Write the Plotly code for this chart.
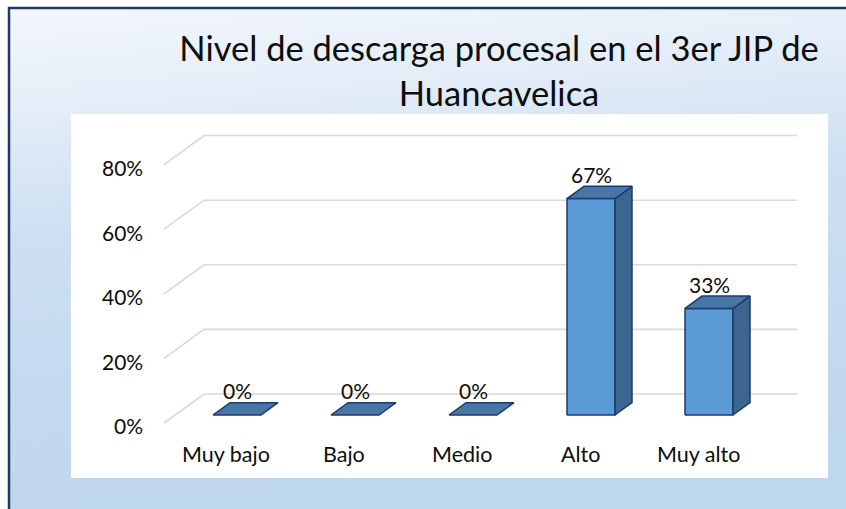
import base64
import plotly.graph_objects as go

# ---------------- data ----------------
categories = ["Muy bajo", "Bajo", "Medio", "Alto", "Muy alto"]
values = [0, 0, 0, 67, 33]            # percent
tick_values = [0, 20, 40, 60, 80]
tick_labels = ["0%", "20%", "40%", "60%", "80%"]
title_text = "Nivel de descarga procesal en el 3er JIP de<br>Huancavelica"

# ---------------- geometry / style ----------------
W, H = 846, 509
PX_PER_CAT = 118.0
PX_PER_PCT = 3.23
X0_PX = 237.0      # pixel of category 0 (bar front plane)
Y0_PX = 415.0      # pixel of 0% (bar front plane)
x_range = [-X0_PX / PX_PER_CAT, (W - X0_PX) / PX_PER_CAT]
y_range = [-(H - Y0_PX) / PX_PER_PCT, Y0_PX / PX_PER_PCT]

DEPTH_PX = (40.0, -29.0)   # screen offset of the full floor depth
D_FRONT, D_BACK = 0.275, 0.70
HALF_W = 24.0 / PX_PER_CAT
WALL_L, WALL_R = -0.525, 4.5

FONT = "Lato"
TXT = "#0d0d0d"
FRONT_C, SIDE_C, TOP_C = "#5b9bd5", "#3b6690", "#4677a6"
EDGE_C = "#1f3a6e"


def proj(c, v, d):
    x = c + DEPTH_PX[0] * (d - D_FRONT) / PX_PER_CAT
    y = v - DEPTH_PX[1] * (d - D_FRONT) / PX_PER_PCT
    return x, y


def poly(points):
    xs, ys = [], []
    for p in points:
        xs.append(p[0]); ys.append(p[1])
    xs.append(points[0][0]); ys.append(points[0][1])
    xs.append(None); ys.append(None)
    return xs, ys


fig = go.Figure()

# gridlines (left wall diagonals + back wall)
gx, gy = [], []
for t in tick_values:
    a = proj(WALL_L, t, 0.0)
    b = proj(WALL_L, t, 1.0)
    c = proj(WALL_R, t, 1.0)
    gx += [a[0], b[0], c[0], None]
    gy += [a[1], b[1], c[1], None]
fig.add_trace(go.Scatter(x=gx, y=gy, mode="lines",
                         line=dict(color="#d9d9d9", width=1.6),
                         hoverinfo="skip", showlegend=False))

# bars
fx, fy, sx, sy, tx, ty = [], [], [], [], [], []
for i, v in enumerate(values):
    l, r = i - HALF_W, i + HALF_W
    front = [proj(l, 0, D_FRONT), proj(r, 0, D_FRONT), proj(r, v, D_FRONT), proj(l, v, D_FRONT)]
    side = [proj(r, 0, D_FRONT), proj(r, 0, D_BACK), proj(r, v, D_BACK), proj(r, v, D_FRONT)]
    top = [proj(l, v, D_FRONT), proj(r, v, D_FRONT), proj(r, v, D_BACK), proj(l, v, D_BACK)]
    if v > 0:
        a, b = poly(front); fx += a; fy += b
        a, b = poly(side); sx += a; sy += b
    a, b = poly(top); tx += a; ty += b

for xs, ys, col in [(fx, fy, FRONT_C), (sx, sy, SIDE_C), (tx, ty, TOP_C)]:
    fig.add_trace(go.Scatter(x=xs, y=ys, mode="lines", fill="toself",
                             fillcolor=col, line=dict(color=EDGE_C, width=1.5),
                             hoverinfo="skip", showlegend=False))

ann = []
# y tick labels
for t, lab in zip(tick_values, tick_labels):
    x, y = proj(WALL_L, t, 0.0)
    ann.append(dict(x=x, y=y, text=lab, showarrow=False, xanchor="right",
                    yanchor="middle", xshift=-19, yshift=-3,
                    font=dict(family=FONT, size=21, color=TXT)))
# category labels
for i, cat in enumerate(categories):
    x, y = proj(i, 0, 0.0)
    ann.append(dict(x=x, y=y, text=cat, showarrow=False, xanchor="center",
                    yanchor="middle", yshift=-31,
                    font=dict(family=FONT, size=21.5, color=TXT)))
# data labels
for i, v in enumerate(values):
    x, _ = proj(i, v, D_FRONT)
    _, y = proj(i, v, D_BACK)
    ann.append(dict(x=x, y=y, text=f"{v}%", showarrow=False, xanchor="center",
                    yanchor="middle", yshift=12,
                    font=dict(family=FONT, size=21, color=TXT)))

# background gradient image
svg = ('<svg xmlns="http://www.w3.org/2000/svg" width="836" height="500" preserveAspectRatio="none">'
       '<defs><linearGradient id="g" x1="0" y1="0" x2="0.15" y2="1">'
       '<stop offset="0" stop-color="#f3f7fc"/>'
       '<stop offset="0.2" stop-color="#e4edf8"/>'
       '<stop offset="0.45" stop-color="#cddff2"/>'
       '<stop offset="1" stop-color="#bed6ee"/>'
       '</linearGradient></defs><rect width="836" height="500" fill="url(#g)"/></svg>')
src = "data:image/svg+xml;base64," + base64.b64encode(svg.encode()).decode()

shapes = [
    dict(type="rect", xref="paper", yref="paper", x0=71 / W, x1=828 / W,
         y0=1 - 478 / H, y1=1 - 114 / H, fillcolor="white", line=dict(width=0),
         layer="below"),
    dict(type="line", xref="paper", yref="paper", x0=9 / W, x1=9 / W,
         y0=0, y1=1 - 7 / H, line=dict(color="#203864", width=2.5)),
    dict(type="line", xref="paper", yref="paper", x0=8 / W, x1=1,
         y0=1 - 8 / H, y1=1 - 8 / H, line=dict(color="#203864", width=2.5)),
]

fig.update_layout(
    width=W, height=H,
    margin=dict(l=0, r=0, t=0, b=0),
    paper_bgcolor="white", plot_bgcolor="rgba(0,0,0,0)",
    xaxis=dict(range=x_range, visible=False, fixedrange=True),
    yaxis=dict(range=y_range, visible=False, fixedrange=True),
    title=dict(text=title_text, x=499 / W, xanchor="center",
               y=1 - 61 / H, yanchor="middle", yref="container",
               font=dict(family=FONT, size=34.5, color=TXT)),
    annotations=ann,
    shapes=shapes,
    images=[dict(source=src, xref="paper", yref="paper", x=10 / W, y=1 - 9 / H,
                 sizex=(W - 10) / W, sizey=(H - 9) / H, xanchor="left",
                 yanchor="top", sizing="stretch", layer="below")],
    showlegend=False,
)

fig.write_html("out.html", config={"displayModeBar": False},
               post_script="document.body.style.margin='0px';")
